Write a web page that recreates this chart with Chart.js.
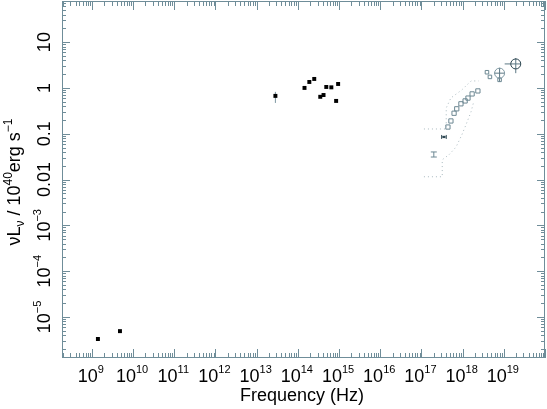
<!DOCTYPE html>
<html>
<head>
<meta charset="utf-8">
<script src="https://cdn.jsdelivr.net/npm/chart.js@4.4.1/dist/chart.umd.min.js"></script>
<style>
  html, body { margin: 0; padding: 0; background: #fff; }
  #wrap { width: 547px; height: 409px; }
</style>
</head>
<body>
<div id="wrap"><canvas id="sed" width="547" height="409"></canvas></div>
<script>
// axis ranges and tick labels
const xMin = 1.88e8, xMax = 1e20;
const yMin = 1.27e-6, yMax = 79;
const xTickExps = [9, 10, 11, 12, 13, 14, 15, 16, 17, 18, 19];
const yTickVals = [10, 1, 0.1, 0.01, 1e-3, 1e-4, 1e-5];
const yTickLabels = [['10', ''], ['1', ''], ['0.1', ''], ['0.01', ''], ['10', '−3'], ['10', '−4'], ['10', '−5']];

// radio + IR/optical photometry (filled squares)
const radioNu = [1.4e9, 4.8e9];
const radioL = [3.3e-6, 4.9e-6];
const optNu = [2.85e13, 1.45e14, 1.9e14, 2.5e14, 3.5e14, 4.2e14, 4.9e14, 6.5e14, 9.5e14, 8.5e14];
const optL = [0.67, 1.0, 1.35, 1.57, 0.64, 0.70, 1.05, 1.03, 1.22, 0.52];
const optLo = [0.47, null, null, null, null, null, null, null, null, null];
const optHi = [0.82, null, null, null, null, null, null, null, null, null];

// soft X-ray spectrum (open squares)
const sxNu = [4.4e17, 5.2e17, 6.2e17, 7.2e17, 9.1e17, 1.15e18, 1.35e18, 1.7e18, 2.35e18];
const sxL = [0.14, 0.19, 0.28, 0.35, 0.45, 0.52, 0.60, 0.74, 0.86];

// single soft points
const hPtNu = [3.5e17], hPtL = [0.085], hPtXLo = [3.1e17], hPtXHi = [4.0e17];
const iPtNu = [2.0e17], iPtL = [0.035], iPtYLo = [0.031], iPtYHi = [0.040];

// hard X-ray points
const hxNu = [3.9e18, 4.6e18, 7.9e18];
const hxL = [2.2, 1.74, 1.5];
const circNu = [7.9e18, 1.95e19];
const circL = [2.1, 3.34];
const circXLo = [5.8e18, 1.05e19], circXHi = [1.05e19, 2.6e19];
const circYLo = [1.35, 2.1], circYHi = [2.75, 4.5];

// dotted envelopes
const upNu = [1.15e17, 4.0e17, 4.0e17, 5.2e17, 9.5e17, 1.6e18, 2.45e18];
const upL = [0.127, 0.127, 0.366, 0.605, 0.90, 1.42, 1.42];
const loNu = [1.15e17, 3.2e17, 3.2e17, 4.7e17, 6.9e17, 9.5e17, 1.2e18, 1.6e18, 1.85e18];
const loL = [0.0115, 0.0115, 0.027, 0.035, 0.051, 0.093, 0.155, 0.30, 0.49];

const pts = (xs, ys) => xs.map((x, i) => ({ x, y: ys[i] }));
const FONT = '"Liberation Sans", Arial, Helvetica, sans-serif';
const AXIS = '#6f8d99';

const errorBars = {
  id: 'errorBars',
  beforeDatasetsDraw(chart) {
    const { ctx } = chart, xs = chart.scales.x, ys = chart.scales.y;
    chart.data.datasets.forEach(ds => {
      ds.data.forEach((p, i) => {
        const px = xs.getPixelForValue(p.x), py = ys.getPixelForValue(p.y);
        ctx.save();
        ctx.strokeStyle = ds.errColor || '#7e98a2';
        ctx.lineWidth = 1;
        ctx.beginPath();
        if (ds.yLo && ds.yLo[i] != null) {
          const a = ys.getPixelForValue(ds.yLo[i]), b = ys.getPixelForValue(ds.yHi[i]);
          ctx.moveTo(px, a); ctx.lineTo(px, b);
          if (ds.caps) { ctx.moveTo(px - 3, a); ctx.lineTo(px + 3, a); ctx.moveTo(px - 3, b); ctx.lineTo(px + 3, b); }
        }
        if (ds.xLo && ds.xLo[i] != null) {
          const a = xs.getPixelForValue(ds.xLo[i]), b = xs.getPixelForValue(ds.xHi[i]);
          ctx.moveTo(a, py); ctx.lineTo(b, py);
          if (ds.caps) { ctx.moveTo(a, py - 2); ctx.lineTo(a, py + 2); ctx.moveTo(b, py - 2); ctx.lineTo(b, py + 2); }
        }
        ctx.stroke();
        ctx.restore();
      });
    });
  }
};

function drawRuns(ctx, runs, cx, baseY) {
  let total = 0;
  runs.forEach(r => { ctx.font = r[1] + 'px ' + FONT; r.w = ctx.measureText(r[0]).width; total += r.w; });
  let x = cx - total / 2;
  runs.forEach(r => {
    ctx.font = r[1] + 'px ' + FONT;
    ctx.fillText(r[0], x, baseY + r[2]);
    x += r.w;
  });
}

const frame = {
  id: 'frame',
  afterDraw(chart) {
    const { ctx, chartArea: ca } = chart, xs = chart.scales.x, ys = chart.scales.y;
    ctx.save();
    ctx.strokeStyle = AXIS;
    ctx.lineWidth = 1;
    ctx.strokeRect(ca.left + 0.5, ca.top + 0.5, ca.right - ca.left - 1, ca.bottom - ca.top - 1);
    ctx.beginPath();
    for (let e = 8; e <= 20; e++) {
      for (let m = 1; m < 10; m++) {
        const v = m * Math.pow(10, e);
        if (v >= xMin && v <= xMax) {
          const px = Math.round(xs.getPixelForValue(v)) + 0.5, len = m === 1 ? 9 : 5;
          ctx.moveTo(px, ca.bottom); ctx.lineTo(px, ca.bottom - len);
          ctx.moveTo(px, ca.top); ctx.lineTo(px, ca.top + len);
        }
      }
    }
    for (let e = -7; e <= 2; e++) {
      for (let m = 1; m < 10; m++) {
        const v = m * Math.pow(10, e);
        if (v >= yMin && v <= yMax) {
          const py = Math.round(ys.getPixelForValue(v)) + 0.5, len = m === 1 ? 8 : 4;
          ctx.moveTo(ca.left, py); ctx.lineTo(ca.left + len, py);
          ctx.moveTo(ca.right, py); ctx.lineTo(ca.right - len, py);
        }
      }
    }
    ctx.stroke();

    ctx.fillStyle = '#000';
    ctx.textBaseline = 'alphabetic';
    ctx.textAlign = 'left';
    xTickExps.forEach(e => {
      const px = xs.getPixelForValue(Math.pow(10, e));
      drawRuns(ctx, [['10', 18, 0], [String(e), 11, -9]], px - 1, 382);
    });
    yTickVals.forEach((v, i) => {
      const py = ys.getPixelForValue(v);
      ctx.save();
      ctx.translate(50, py);
      ctx.rotate(-Math.PI / 2);
      const lab = yTickLabels[i];
      const runs = [[lab[0], 18, 0]];
      if (lab[1]) runs.push([lab[1], 11, -9]);
      drawRuns(ctx, runs, 0, 0);
      ctx.restore();
    });

    drawRuns(ctx, [['Frequency (Hz)', 18, 0]], 302, 401);

    ctx.save();
    ctx.translate(20, 182);
    ctx.rotate(-Math.PI / 2);
    drawRuns(ctx, [['νL', 18, 0], ['ν', 12, 4], [' / 10', 18, 0], ['40', 12, -8], ['erg s', 18, 0], ['−1', 12, -8]], 0, 0);
    ctx.restore();
    ctx.restore();
  }
};

new Chart(document.getElementById('sed'), {
  type: 'scatter',
  data: {
    datasets: [
      { data: pts(upNu, upL), showLine: true, borderColor: '#a9b9bf', borderWidth: 1, borderDash: [1, 3], pointRadius: 0 },
      { data: pts(loNu, loL), showLine: true, borderColor: '#a9b9bf', borderWidth: 1, borderDash: [1, 3], pointRadius: 0 },
      { data: pts(radioNu, radioL), pointStyle: 'rect', pointRadius: 2.8, backgroundColor: '#000', borderWidth: 0 },
      { data: pts(optNu, optL), yLo: optLo, yHi: optHi, pointStyle: 'rect', pointRadius: 2.8, backgroundColor: '#000', borderWidth: 0 },
      { data: pts(sxNu, sxL), pointStyle: 'rect', pointRadius: 3, backgroundColor: 'rgba(0,0,0,0)', borderColor: '#6d8893', borderWidth: 1 },
      { data: pts(hPtNu, hPtL), xLo: hPtXLo, xHi: hPtXHi, caps: true, errColor: '#2f4853', pointStyle: 'rect', pointRadius: 1.6, backgroundColor: '#2f4853', borderWidth: 0 },
      { data: pts(iPtNu, iPtL), yLo: iPtYLo, yHi: iPtYHi, caps: true, errColor: '#6d8893', pointRadius: 0 },
      { data: pts(hxNu, hxL), pointStyle: 'rect', pointRadius: 2.5, backgroundColor: 'rgba(0,0,0,0)', borderColor: '#6d8893', borderWidth: 1 },
      { data: pts(circNu, circL), xLo: circXLo, xHi: circXHi, yLo: circYLo, yHi: circYHi, errColor: '#5d7885', pointStyle: 'circle', pointRadius: 5, backgroundColor: 'rgba(255,255,255,0)', borderColor: ['#7f98a2', '#2c4550'], borderWidth: 1 }
    ]
  },
  options: {
    responsive: false,
    animation: false,
    events: [],
    layout: { autoPadding: false, padding: { left: 62, top: 1, right: 2, bottom: 51 } },
    plugins: { legend: { display: false }, tooltip: { enabled: false } },
    scales: {
      x: { type: 'logarithmic', display: false, min: xMin, max: xMax },
      y: { type: 'logarithmic', display: false, min: yMin, max: yMax }
    }
  },
  plugins: [errorBars, frame]
});
</script>
</body>
</html>
